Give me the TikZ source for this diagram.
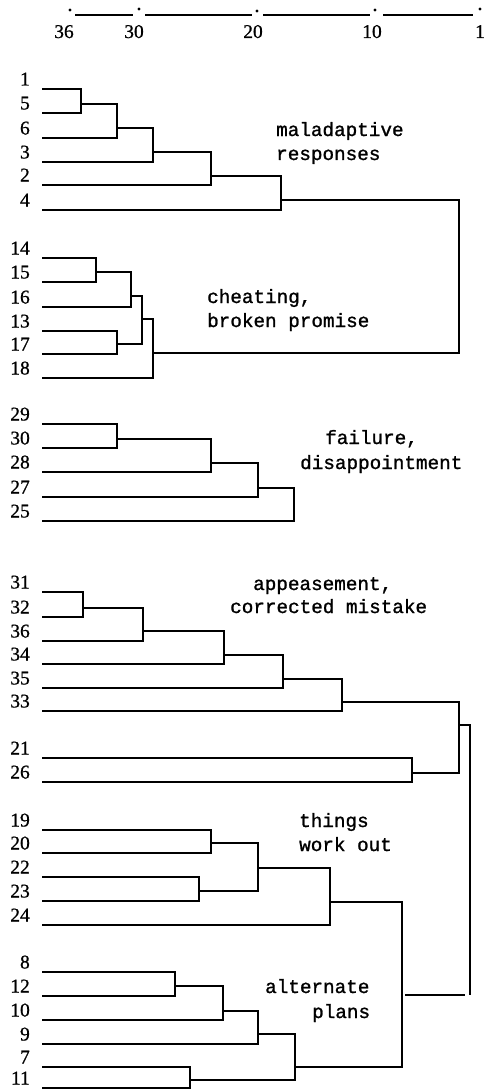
\documentclass[tikz,border=0pt]{standalone}
\usepackage{fontspec}
\setmainfont{Liberation Serif}
\newfontfamily\numfont[FakeBold=0.8]{Liberation Serif}
\newfontfamily\twfont[FakeBold=1.2]{Liberation Mono}
\begin{document}
\begin{tikzpicture}[x=1pt,y=-1pt,
  dg/.style={line width=2.1pt},
  num/.style={font=\numfont\fontsize{19.5}{19.5}\selectfont, inner sep=0pt, anchor=base east},
  snum/.style={font=\numfont\fontsize{19.5}{19.5}\selectfont, inner sep=0pt, anchor=base},
  lab/.style={font=\twfont\fontsize{19.3}{19.3}\selectfont, inner sep=0pt, anchor=base west},
  tick/.style={line width=1.3pt}]
\useasboundingbox (0,0) rectangle (486,1089);
% ---- scale ----
\foreach \t/\x/\y/\lx in {36/70/10/64, 30/139/9/134, 20/257/11/253, 10/375/10/372, 1/480/9/480}{
  \coordinate (sd\t) at (\x,\y);
  \coordinate (se\t) at (\x,15);
  \fill (sd\t) circle (1.6pt);
  \node[snum] (sn\t) at (\lx,38) {\t};
}
\draw[tick, shorten <=5pt, shorten >=6pt] (se36) -- (se30);
\draw[tick, shorten <=6pt, shorten >=5pt] (se30) -- (se20);
\draw[tick, shorten <=6pt, shorten >=5pt] (se20) -- (se10);
\draw[tick, shorten <=8pt, shorten >=7pt] (se10) -- (se1);
% ---- leaves ----
\foreach \n/\y in {1/89,5/113,6/138,3/162,2/185,4/210,
                   14/258,15/282,16/307,13/331,17/354,18/378,
                   29/424,30/448,28/472,27/497,25/521,
                   31/592,32/617,36/641,34/664,35/688,33/711,21/758,26/782,
                   19/830,20/853,22/877,23/901,24/925,
                   8/972,12/996,10/1020,9/1044,7/1067,11/1088}{
  \coordinate (l\n) at (42,\y);
  \node[num] (n\n) at (30,{\y-3.5}) {\n};
}
% ---- group 1 ----
\coordinate (a1) at (81,104);
\coordinate (a2) at (117,128);
\coordinate (a3) at (153,152);
\coordinate (a4) at (211,176);
\coordinate (a5) at (281,200);
\draw[dg] (l1) -| (a1) |- (l5);
\draw[dg] (a1) -| (a2) |- (l6);
\draw[dg] (a2) -| (a3) |- (l3);
\draw[dg] (a3) -| (a4) |- (l2);
\draw[dg] (a4) -| (a5) |- (l4);
% ---- group 2 ----
\coordinate (b1) at (96,272);
\coordinate (b2) at (131,296);
\coordinate (b3) at (117,344);
\coordinate (b4) at (142,319);
\coordinate (b5) at (153,353);
\draw[dg] (l14) -| (b1) |- (l15);
\draw[dg] (b1) -| (b2) |- (l16);
\draw[dg] (l13) -| (b3) |- (l17);
\draw[dg] (b2) -| (b4) |- (b3);
\draw[dg] (b4) -| (b5) |- (l18);
\coordinate (top) at (459,276);
\draw[dg] (a5) -| (top) |- (b5);
% ---- group 3 ----
\coordinate (c1) at (117,439);
\coordinate (c2) at (211,463);
\coordinate (c3) at (258,488);
\coordinate (c4) at (294,505);
\draw[dg] (l29) -| (c1) |- (l30);
\draw[dg] (c1) -| (c2) |- (l28);
\draw[dg] (c2) -| (c3) |- (l27);
\draw[dg] (c3) -| (c4) |- (l25);
% ---- group 4 ----
\coordinate (d1) at (83,608);
\coordinate (d2) at (143,631);
\coordinate (d3) at (224,655);
\coordinate (d4) at (283,679);
\coordinate (d5) at (342,702);
\coordinate (d6) at (412,773);
\coordinate (d7) at (459,725);
\draw[dg] (l31) -| (d1) |- (l32);
\draw[dg] (d1) -| (d2) |- (l36);
\draw[dg] (d2) -| (d3) |- (l34);
\draw[dg] (d3) -| (d4) |- (l35);
\draw[dg] (d4) -| (d5) |- (l33);
\draw[dg] (l21) -| (d6) |- (l26);
\draw[dg] (d5) -| (d7) |- (d6);
% ---- group 5 ----
\coordinate (e1) at (211,843);
\coordinate (e2) at (199,891);
\coordinate (e3) at (258,868);
\coordinate (e4) at (330,902);
\draw[dg] (l19) -| (e1) |- (l20);
\draw[dg] (l22) -| (e2) |- (l23);
\draw[dg] (e1) -| (e3) |- (e2);
\draw[dg] (e3) -| (e4) |- (l24);
% ---- group 6 ----
\coordinate (f1) at (175,986);
\coordinate (f2) at (223,1011);
\coordinate (f3) at (258,1034);
\coordinate (f4) at (190,1080);
\coordinate (f5) at (295,1067);
\coordinate (f6) at (402,995);
\draw[dg] (l8) -| (f1) |- (l12);
\draw[dg] (f1) -| (f2) |- (l10);
\draw[dg] (f2) -| (f3) |- (l9);
\draw[dg] (l7) -| (f4) |- (l11);
\draw[dg] (f3) -| (f5) |- (f4);
\draw[dg] (e4) -| (f6) |- (f5);
% ---- root ----
\coordinate (root) at (470,995);
\draw[dg] (d7) -| (root);
\draw[dg, line width=1.6pt, shorten <=3pt, shorten >=5pt] (f6) -- (root);
% ---- cluster labels ----
\node[lab] (t1a) at (276,136) {maladaptive};
\node[lab] (t1b) at (276,160) {responses};
\node[lab] (t2a) at (207,303) {cheating,};
\node[lab] (t2b) at (207,327) {broken promise};
\node[lab] (t3a) at (325,444) {failure,};
\node[lab] (t3b) at (300,469) {disappointment};
\node[lab] (t4a) at (253,590) {appeasement,};
\node[lab] (t4b) at (230,613) {corrected mistake};
\node[lab] (t5a) at (299,827) {things};
\node[lab] (t5b) at (299,851) {work out};
\node[lab] (t6a) at (265,993) {alternate};
\node[lab] (t6b) at (312,1018) {plans};
\end{tikzpicture}
\end{document}
